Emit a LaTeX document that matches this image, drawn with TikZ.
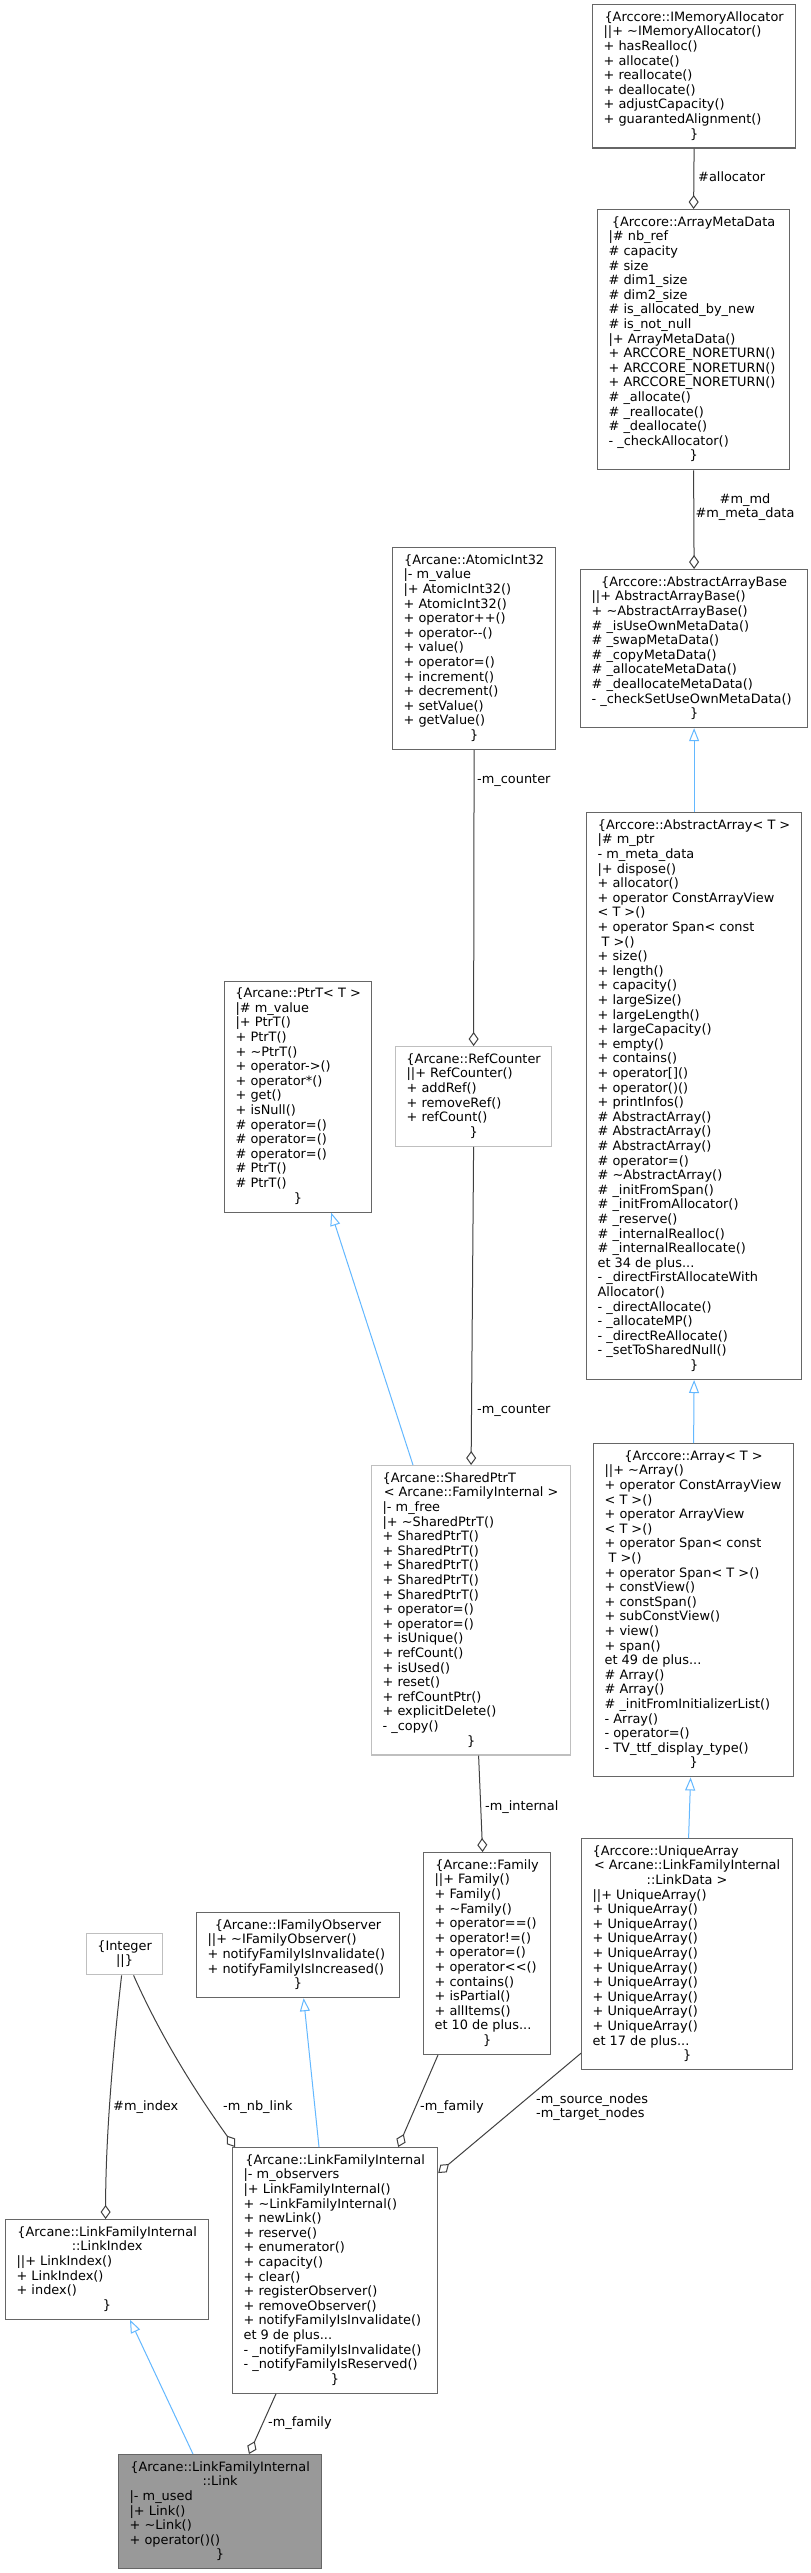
\documentclass[tikz,border=0pt]{standalone}
\usepackage{fontspec}
\setmainfont{DejaVu Sans}[Ligatures=TeXOff]
\usetikzlibrary{arrows.meta}
\definecolor{cBorder}{HTML}{666666}
\definecolor{cLight}{HTML}{BFBFBF}
\definecolor{cFill}{HTML}{999999}
\definecolor{cEdge}{HTML}{404040}
\definecolor{cInh}{HTML}{63B8FF}
\newcommand\mystrut{\vrule height 10.6pt depth 4pt width 0pt}
\newcommand\Lr[1]{\hbox to\hsize{\mystrut#1\hss}}
\newcommand\Cr[1]{\hbox to\hsize{\hss\mystrut#1\hss}}
\newcommand\cbox[2]{\vbox{\hsize=#1\offinterlineskip#2}}
\tikzset{
  every node/.style={font=\fontsize{12.9pt}{14.6pt}\selectfont},
  cls/.style={draw=cBorder, line width=1.2pt, fill=white, inner sep=0pt, rectangle, anchor=north west},
  clsl/.style={cls, draw=cLight},
  clsf/.style={cls, fill=cFill},
  use/.style={draw=cEdge, line width=1pt, -{Diamond[open, length=14pt, width=10pt, line width=1pt]}},
  inh/.style={draw=cInh, line width=1pt, -{Triangle[open, length=13pt, width=10pt, line width=1pt]}},
  lbl/.style={inner sep=0pt, anchor=west, text=black}
}
\begin{document}
\begin{tikzpicture}[x=1pt,y=-1pt]
\fill[white] (0,0) rectangle (811,2573);
\useasboundingbox (0,0) rectangle (811,2573);

% IMemoryAllocator
\node[cls, minimum width=203pt, minimum height=143.4pt] (ima) at (592,4) {\cbox{181pt}{%
\Cr{\{Arccore::IMemoryAllocator}
\Lr{||+ \textasciitilde IMemoryAllocator()}
\Lr{+ hasRealloc()}
\Lr{+ allocate()}
\Lr{+ reallocate()}
\Lr{+ deallocate()}
\Lr{+ adjustCapacity()}
\Lr{+ guarantedAlignment()}
\Cr{\}}}};

% ArrayMetaData
\node[cls, minimum width=192pt, minimum height=260.2pt] (amd) at (597,209) {\cbox{170pt}{%
\Cr{\{Arccore::ArrayMetaData}
\Lr{|\# nb\_ref}
\Lr{\# capacity}
\Lr{\# size}
\Lr{\# dim1\_size}
\Lr{\# dim2\_size}
\Lr{\# is\_allocated\_by\_new}
\Lr{\# is\_not\_null}
\Lr{|+ ArrayMetaData()}
\Lr{+ ARCCORE\_NORETURN()}
\Lr{+ ARCCORE\_NORETURN()}
\Lr{+ ARCCORE\_NORETURN()}
\Lr{\# \_allocate()}
\Lr{\# \_reallocate()}
\Lr{\# \_deallocate()}
\Lr{- \_checkAllocator()}
\Cr{\}}}};

% AbstractArrayBase
\node[cls, minimum width=227pt, minimum height=158pt] (aab) at (580,569) {\cbox{205pt}{%
\Cr{\{Arccore::AbstractArrayBase}
\Lr{||+ AbstractArrayBase()}
\Lr{+ \textasciitilde AbstractArrayBase()}
\Lr{\# \_isUseOwnMetaData()}
\Lr{\# \_swapMetaData()}
\Lr{\# \_copyMetaData()}
\Lr{\# \_allocateMetaData()}
\Lr{\# \_deallocateMetaData()}
\Lr{- \_checkSetUseOwnMetaData()}
\Cr{\}}}};

% AbstractArray
\node[cls, minimum width=215pt, minimum height=566.8pt] (aa) at (586,812) {\cbox{193pt}{%
\Cr{\{Arccore::AbstractArray< T >}
\Lr{|\# m\_ptr}
\Lr{- m\_meta\_data}
\Lr{|+ dispose()}
\Lr{+ allocator()}
\Lr{+ operator ConstArrayView}
\Lr{< T >()}
\Lr{+ operator Span< const}
\Lr{\ T >()}
\Lr{+ size()}
\Lr{+ length()}
\Lr{+ capacity()}
\Lr{+ largeSize()}
\Lr{+ largeLength()}
\Lr{+ largeCapacity()}
\Lr{+ empty()}
\Lr{+ contains()}
\Lr{+ operator[]()}
\Lr{+ operator()()}
\Lr{+ printInfos()}
\Lr{\# AbstractArray()}
\Lr{\# AbstractArray()}
\Lr{\# AbstractArray()}
\Lr{\# operator=()}
\Lr{\# \textasciitilde AbstractArray()}
\Lr{\# \_initFromSpan()}
\Lr{\# \_initFromAllocator()}
\Lr{\# \_reserve()}
\Lr{\# \_internalRealloc()}
\Lr{\# \_internalReallocate()}
\Lr{et 34 de plus...}
\Lr{- \_directFirstAllocateWith}
\Lr{Allocator()}
\Lr{- \_directAllocate()}
\Lr{- \_allocateMP()}
\Lr{- \_directReAllocate()}
\Lr{- \_setToSharedNull()}
\Cr{\}}}};

% Array
\node[cls, minimum width=200pt, minimum height=333.2pt] (arr) at (593,1443) {\cbox{178pt}{%
\Cr{\{Arccore::Array< T >}
\Lr{||+ \textasciitilde Array()}
\Lr{+ operator ConstArrayView}
\Lr{< T >()}
\Lr{+ operator ArrayView}
\Lr{< T >()}
\Lr{+ operator Span< const}
\Lr{\ T >()}
\Lr{+ operator Span< T >()}
\Lr{+ constView()}
\Lr{+ constSpan()}
\Lr{+ subConstView()}
\Lr{+ view()}
\Lr{+ span()}
\Lr{et 49 de plus...}
\Lr{\# Array()}
\Lr{\# Array()}
\Lr{\# \_initFromInitializerList()}
\Lr{- Array()}
\Lr{- operator=()}
\Lr{- TV\_ttf\_display\_type()}
\Cr{\}}}};

% UniqueArray
\node[cls, minimum width=211pt, minimum height=231pt] (ua) at (581,1838) {\cbox{189pt}{%
\Lr{\{Arccore::UniqueArray}
\Cr{< Arcane::LinkFamilyInternal}
\Cr{::LinkData >}
\Lr{||+ UniqueArray()}
\Lr{+ UniqueArray()}
\Lr{+ UniqueArray()}
\Lr{+ UniqueArray()}
\Lr{+ UniqueArray()}
\Lr{+ UniqueArray()}
\Lr{+ UniqueArray()}
\Lr{+ UniqueArray()}
\Lr{+ UniqueArray()}
\Lr{+ UniqueArray()}
\Lr{et 17 de plus...}
\Cr{\}}}};

% AtomicInt32
\node[cls, minimum width=163pt, minimum height=201.8pt] (at) at (392,547) {\cbox{141pt}{%
\Cr{\{Arcane::AtomicInt32}
\Lr{|- m\_value}
\Lr{|+ AtomicInt32()}
\Lr{+ AtomicInt32()}
\Lr{+ operator++()}
\Lr{+ operator-{}-()}
\Lr{+ value()}
\Lr{+ operator=()}
\Lr{+ increment()}
\Lr{+ decrement()}
\Lr{+ setValue()}
\Lr{+ getValue()}
\Cr{\}}}};

% RefCounter
\node[clsl, minimum width=156pt, minimum height=99.6pt] (rc) at (395,1046) {\cbox{134pt}{%
\Cr{\{Arcane::RefCounter}
\Lr{||+ RefCounter()}
\Lr{+ addRef()}
\Lr{+ removeRef()}
\Lr{+ refCount()}
\Cr{\}}}};

% PtrT
\node[cls, minimum width=147pt, minimum height=231pt] (ptr) at (224,980.5) {\cbox{125pt}{%
\Cr{\{Arcane::PtrT< T >}
\Lr{|\# m\_value}
\Lr{|+ PtrT()}
\Lr{+ PtrT()}
\Lr{+ \textasciitilde PtrT()}
\Lr{+ operator->()}
\Lr{+ operator*()}
\Lr{+ get()}
\Lr{+ isNull()}
\Lr{\# operator=()}
\Lr{\# operator=()}
\Lr{\# operator=()}
\Lr{\# PtrT()}
\Lr{\# PtrT()}
\Cr{\}}}};

% SharedPtrT
\node[clsl, minimum width=199pt, minimum height=289.4pt] (sp) at (371,1465) {\cbox{177pt}{%
\Lr{\{Arcane::SharedPtrT}
\Cr{< Arcane::FamilyInternal >}
\Lr{|- m\_free}
\Lr{|+ \textasciitilde SharedPtrT()}
\Lr{+ SharedPtrT()}
\Lr{+ SharedPtrT()}
\Lr{+ SharedPtrT()}
\Lr{+ SharedPtrT()}
\Lr{+ SharedPtrT()}
\Lr{+ operator=()}
\Lr{+ operator=()}
\Lr{+ isUnique()}
\Lr{+ refCount()}
\Lr{+ isUsed()}
\Lr{+ reset()}
\Lr{+ refCountPtr()}
\Lr{+ explicitDelete()}
\Lr{- \_copy()}
\Cr{\}}}};

% Family
\node[cls, minimum width=127pt, minimum height=201.8pt] (fam) at (423,1852) {\cbox{105pt}{%
\Cr{\{Arcane::Family}
\Lr{||+ Family()}
\Lr{+ Family()}
\Lr{+ \textasciitilde Family()}
\Lr{+ operator==()}
\Lr{+ operator!=()}
\Lr{+ operator=()}
\Lr{+ operator<{}<()}
\Lr{+ contains()}
\Lr{+ isPartial()}
\Lr{+ allItems()}
\Lr{et 10 de plus...}
\Cr{\}}}};

% IFamilyObserver
\node[cls, minimum width=203pt, minimum height=85pt] (ifo) at (196,1912) {\cbox{181pt}{%
\Cr{\{Arcane::IFamilyObserver}
\Lr{||+ \textasciitilde IFamilyObserver()}
\Lr{+ notifyFamilyIsInvalidate()}
\Lr{+ notifyFamilyIsIncreased()}
\Cr{\}}}};

% Integer
\node[clsl, minimum width=76pt, minimum height=41.2pt] (int) at (86,1933) {\cbox{54pt}{%
\Cr{\{Integer}
\Cr{||\}}}};

% LinkIndex
\node[cls, minimum width=203pt, minimum height=99.6pt] (li) at (5,2219) {\cbox{181pt}{%
\Cr{\{Arcane::LinkFamilyInternal}
\Cr{::LinkIndex}
\Lr{||+ LinkIndex()}
\Lr{+ LinkIndex()}
\Lr{+ index()}
\Cr{\}}}};

% LinkFamilyInternal
\node[cls, minimum width=205pt, minimum height=245.6pt] (lfi) at (232,2147) {\cbox{183pt}{%
\Cr{\{Arcane::LinkFamilyInternal}
\Lr{|- m\_observers}
\Lr{|+ LinkFamilyInternal()}
\Lr{+ \textasciitilde LinkFamilyInternal()}
\Lr{+ newLink()}
\Lr{+ reserve()}
\Lr{+ enumerator()}
\Lr{+ capacity()}
\Lr{+ clear()}
\Lr{+ registerObserver()}
\Lr{+ removeObserver()}
\Lr{+ notifyFamilyIsInvalidate()}
\Lr{et 9 de plus...}
\Lr{- \_notifyFamilyIsInvalidate()}
\Lr{- \_notifyFamilyIsReserved()}
\Cr{\}}}};

% Link
\node[clsf, minimum width=203pt, minimum height=114.2pt] (lk) at (118,2454) {\cbox{181pt}{%
\Cr{\{Arcane::LinkFamilyInternal}
\Cr{::Link}
\Lr{|- m\_used}
\Lr{|+ Link()}
\Lr{+ \textasciitilde Link()}
\Lr{+ operator()()}
\Cr{\}}}};

% ---- connectors ----
\draw[use] (ima.south) -- (amd.north);
\draw[use] (amd.south) -- (aab.north);
\draw[inh] (aa.north) -- (aab.south);
\draw[inh] (arr.north) -- (aa.south);
\draw[inh] ([xshift=1.5pt]ua.north) -- ([xshift=-3pt]arr.south);
\draw[use] (at.south) -- (rc.north);
\draw[use] (rc.south) -- (sp.north);
\draw[inh] ([xshift=42pt]sp.north west) -- ([xshift=-41pt]ptr.south east);
\draw[use] ([xshift=7.5pt]sp.south) -- ([xshift=-4.5pt]fam.north);
\draw[inh] ([xshift=87pt]lfi.north west) -- ([xshift=5.5pt]ifo.south);
\draw[use] ([xshift=9pt]int.south) .. controls +(32,72) and +(-30,-42) .. ([xshift=3pt]lfi.north west);
\draw[use] ([xshift=-3pt]int.south) .. controls +(-11,97) and +(0,-69) .. ([xshift=-1.5pt]li.north);
\draw[use] ([xshift=15pt]fam.south west) -- ([xshift=-40pt]lfi.north east);
\draw[use] ([yshift=17pt]ua.south west) -- ([yshift=-26pt]lfi.north east);
\draw[inh] ([xshift=75pt]lk.north west) -- ([xshift=125pt]li.south west);
\draw[use] ([xshift=44pt]lfi.south west) -- ([xshift=131pt]lk.north west);

% ---- labels ----
\node[lbl] (l1) at (698,177) {\#allocator};
\node[inner sep=0pt, align=center] (l2) at (745,507) {\#m\_md\\\#m\_meta\_data};
\node[lbl] (l3) at (477,780) {-m\_counter};
\node[lbl] (l4) at (477,1410) {-m\_counter};
\node[lbl] (l5) at (485,1807) {-m\_internal};
\node[lbl] (l6) at (113,2107) {\#m\_index};
\node[lbl] (l7) at (223,2107) {-m\_nb\_link};
\node[lbl] (l8) at (420,2107) {-m\_family};
\node[lbl, align=left] (l9) at (536,2107) {-m\_source\_nodes\\-m\_target\_nodes};
\node[lbl] (l10) at (268,2423) {-m\_family};
\end{tikzpicture}
\end{document}
